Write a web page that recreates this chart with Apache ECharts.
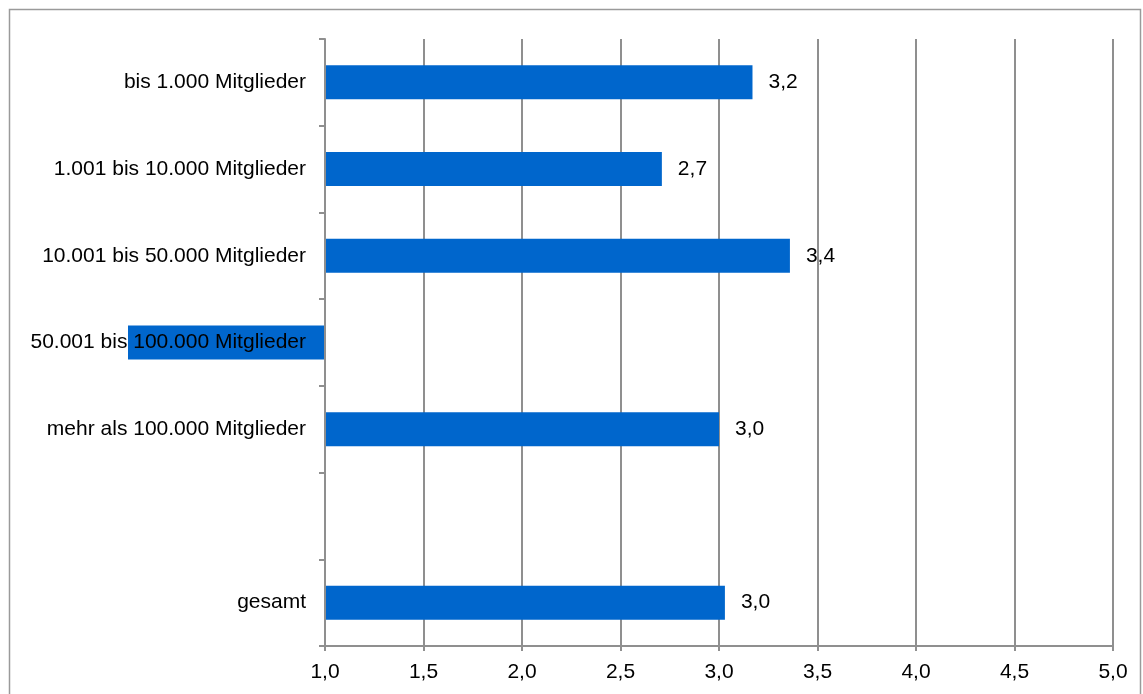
<!DOCTYPE html>
<html>
<head>
<meta charset="utf-8">
<title>Mitglieder</title>
<script src="https://cdn.jsdelivr.net/npm/echarts@6/dist/echarts.min.js"></script>
<style>
  html, body { margin: 0; padding: 0; background: #ffffff; }
  #chart { width: 1143px; height: 694px; }
</style>
</head>
<body>
<div id="chart"></div>
<script>
// Kategorien (von oben nach unten); die leere Zeile trennt "gesamt" ab
const categories = [
  'bis 1.000 Mitglieder',
  '1.001 bis 10.000 Mitglieder',
  '10.001 bis 50.000 Mitglieder',
  '50.001 bis 100.000 Mitglieder',
  'mehr als 100.000 Mitglieder',
  '',
  'gesamt'
];

// Mittelwerte je Gruppe
const values = [3.17, 2.71, 3.36, 0, 3.0, null, 3.03];

// Skala der Werteachse
const axisMin = 1.0;
const axisMax = 5.0;
const axisStep = 0.5;

const FONT = '"Liberation Sans", Arial, sans-serif';
const GRID_GRAY = '#8f8f8f';
const BAR_BLUE = '#0066cc';

const fmt = v => v.toFixed(1).replace('.', ',');

const chart = echarts.init(document.getElementById('chart'), null, { renderer: 'canvas' });

chart.setOption({
  animation: false,
  backgroundColor: '#ffffff',
  graphic: [{
    type: 'rect',
    shape: { x: 9.5, y: 9.5, width: 1131, height: 720 },
    style: { fill: 'none', stroke: '#9a9a9a', lineWidth: 1.5 },
    silent: true,
    z: -10
  }],
  grid: { left: 325, right: 30, top: 39, bottom: 48, containLabel: false },
  xAxis: {
    type: 'value',
    min: axisMin,
    max: axisMax,
    interval: axisStep,
    startValue: axisMin,
    axisLine: { show: true, lineStyle: { color: GRID_GRAY, width: 2 } },
    axisTick: { show: true, length: 5, lineStyle: { color: GRID_GRAY, width: 2 } },
    splitLine: { show: true, lineStyle: { color: GRID_GRAY, width: 2 } },
    axisLabel: {
      color: '#000000',
      fontFamily: FONT,
      fontSize: 21,
      margin: 16,
      formatter: v => fmt(v)
    }
  },
  yAxis: {
    type: 'category',
    data: categories,
    inverse: true,
    z: 5,
    axisLine: { show: true, lineStyle: { color: GRID_GRAY, width: 2 } },
    axisTick: { show: true, length: 6, lineStyle: { color: GRID_GRAY, width: 2 } },
    splitLine: { show: false },
    axisLabel: {
      color: '#000000',
      fontFamily: FONT,
      fontSize: 21,
      margin: 19
    }
  },
  series: [{
    type: 'bar',
    data: values,
    barWidth: 34,
    clip: false,
    itemStyle: { color: BAR_BLUE },
    label: {
      show: true,
      position: 'right',
      distance: 16,
      color: '#000000',
      fontFamily: FONT,
      fontSize: 21,
      formatter: p => (p.value == null || p.value < axisMin) ? '' : fmt(p.value)
    }
  }]
});
</script>
</body>
</html>
